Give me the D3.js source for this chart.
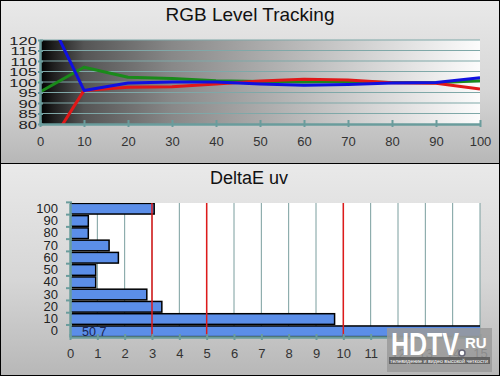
<!DOCTYPE html>
<html>
<head>
<meta charset="utf-8">
<script src="https://cdn.jsdelivr.net/npm/d3@7"></script>
<style>
  body { margin: 0; background: #fff; }
  svg { display: block; font-family: "Liberation Sans", Arial, sans-serif; }
</style>
</head>
<body>
<div id="chart"></div>
<script>
// RGB tracking data (IRE steps)
const levels = [0, 10, 20, 30, 40, 50, 60, 70, 80, 90, 100];
const redVals = [62.7, 96, 97.5, 97.7, 99, 100.5, 101.3, 101, 99.6, 99.4, 96.7];
const greenVals = [95.3, 107, 102.3, 101.7, 100.6, 100.2, 100, 100.2, 99.8, 99.6, 100.6];
const blueVals = [139.6, 96, 99.5, 100, 100, 99, 98.4, 98.8, 99.5, 99.8, 102];
const yTicksTop = [80, 85, 90, 95, 100, 105, 110, 115, 120];

// DeltaE uv data
const deCats = ['100', '90', '80', '70', '60', '50', '40', '30', '20', '10', '0'];
const deVals = [3.08, 0.67, 0.67, 1.43, 1.77, 0.94, 0.94, 2.81, 3.36, 9.68, 50.7];
const deRedLines = [3, 5, 10];
const deTicks = d3.range(0, 16);

const W = 500, H = 376;
const teal = '#6a9c9c';

const svg = d3.select('#chart').append('svg')
    .attr('width', W)
    .attr('height', H);

const defs = svg.append('defs');

let pg = defs.append('linearGradient').attr('id', 'panel').attr('x1', 0).attr('y1', 0).attr('x2', 0).attr('y2', 1);
pg.append('stop').attr('offset', '0%').attr('stop-color', '#e9e9e9');
pg.append('stop').attr('offset', '55%').attr('stop-color', '#d6d6d6');
pg.append('stop').attr('offset', '100%').attr('stop-color', '#b7b7b7');

let bg = defs.append('linearGradient').attr('id', 'ramp').attr('x1', 0).attr('y1', 0).attr('x2', 1).attr('y2', 0);
[['0%', '#000'], ['3%', '#1e1e1e'], ['10%', '#555'], ['30%', '#888'], ['50%', '#aaa'], ['75%', '#d4d4d4'], ['100%', '#fcfcfc']]
    .forEach(s => bg.append('stop').attr('offset', s[0]).attr('stop-color', s[1]));

// panels
svg.append('rect').attr('x', 0).attr('y', 0).attr('width', W).attr('height', 163).attr('fill', 'url(#panel)');
svg.append('rect').attr('x', 0).attr('y', 164).attr('width', W).attr('height', H - 164).attr('fill', 'url(#panel)');
svg.append('line').attr('x1', 0).attr('x2', W).attr('y1', 163.5).attr('y2', 163.5).attr('stroke', '#000');

// ---------- top chart ----------
const x1 = d3.scaleLinear().domain([0, 100]).range([40, 480]);
const y1 = d3.scaleLinear().domain([80, 120]).range([124, 40]);

svg.append('text')
    .attr('x', 250).attr('y', 21)
    .attr('text-anchor', 'middle')
    .style('font-size', '19px')
    .attr('fill', '#111')
    .text('RGB Level Tracking');

svg.append('rect')
    .attr('x', x1(0)).attr('y', y1(120))
    .attr('width', x1(100) - x1(0)).attr('height', y1(80) - y1(120))
    .attr('fill', 'url(#ramp)');

svg.append('g').selectAll('line').data(yTicksTop.slice(1)).enter().append('line')
    .attr('x1', x1(0)).attr('x2', x1(100))
    .attr('y1', d => y1(d)).attr('y2', d => y1(d))
    .attr('stroke', '#7fa8a8').attr('stroke-width', 1.2);

defs.append('clipPath').attr('id', 'clipTop').append('rect')
    .attr('x', x1(0)).attr('y', y1(120))
    .attr('width', x1(100) - x1(0)).attr('height', y1(80) - y1(120));

const line = d3.line().x((d, i) => x1(levels[i])).y(d => y1(d));
const series = [[greenVals, '#1a8a1a'], [redVals, '#e01818'], [blueVals, '#1010e0']];
svg.append('g').attr('clip-path', 'url(#clipTop)')
    .selectAll('path').data(series).enter().append('path')
    .attr('d', d => line(d[0]))
    .attr('fill', 'none')
    .attr('stroke', d => d[1])
    .attr('stroke-width', 3)
    .attr('stroke-linejoin', 'round');

let xAxisTop = svg.append('g')
    .attr('transform', `translate(0, ${y1(80)})`)
    .call(d3.axisBottom(x1).tickValues(levels).tickSizeInner(3).tickSizeOuter(0).tickPadding(10));
xAxisTop.select('.domain').attr('stroke', teal).attr('stroke-width', 2.5);
xAxisTop.selectAll('.tick line').attr('stroke', teal).attr('stroke-width', 2).attr('y1', -4).attr('y2', 3);
xAxisTop.selectAll('.tick text').style('font-size', '13px').attr('fill', '#333').style('font-family', 'inherit');

let yAxisTop = svg.append('g')
    .attr('transform', `translate(${x1(0)}, 0)`)
    .call(d3.axisLeft(y1).tickValues(yTicksTop).tickSizeInner(3).tickSizeOuter(0));
yAxisTop.select('.domain').attr('stroke', teal).attr('stroke-width', 2.5);
yAxisTop.selectAll('.tick line').attr('stroke', teal).attr('stroke-width', 2).attr('x2', 3).attr('x1', -2);
yAxisTop.selectAll('.tick text')
    .attr('x', -3 / 1.45)
    .attr('dy', '0.36em')
    .attr('transform', 'scale(1.45,1)')
    .style('font-size', '11.5px')
    .attr('fill', '#222')
    .style('font-family', 'inherit');

// ---------- bottom chart ----------
const x2 = d3.scaleLinear().domain([0, 15]).range([70, 480]);
const y2 = d3.scaleBand().domain(deCats).range([203, 337]).paddingInner(0.13).paddingOuter(0.03);

svg.append('text')
    .attr('x', 249).attr('y', 184)
    .attr('text-anchor', 'middle')
    .style('font-size', '18px')
    .attr('fill', '#111')
    .text('DeltaE uv');

svg.append('rect')
    .attr('x', x2(0)).attr('y', 203)
    .attr('width', x2(15) - x2(0)).attr('height', 337 - 203)
    .attr('fill', '#fff');

svg.append('g').selectAll('line').data(deTicks.slice(1)).enter().append('line')
    .attr('x1', d => x2(d)).attr('x2', d => x2(d))
    .attr('y1', 203).attr('y2', 337)
    .attr('stroke', '#7a9e9e').attr('stroke-width', 1);

defs.append('clipPath').attr('id', 'clipBot').append('rect')
    .attr('x', x2(0)).attr('y', 203)
    .attr('width', x2(15) - x2(0)).attr('height', 337 - 203);

svg.append('g').attr('clip-path', 'url(#clipBot)')
    .selectAll('rect').data(deVals).enter().append('rect')
    .attr('x', x2(0))
    .attr('y', (d, i) => y2(deCats[i]))
    .attr('width', d => x2(d) - x2(0))
    .attr('height', y2.bandwidth())
    .attr('fill', '#5b8ee8')
    .attr('stroke', '#000')
    .attr('stroke-width', 1.5);

svg.append('g').selectAll('line').data(deRedLines).enter().append('line')
    .attr('x1', d => x2(d)).attr('x2', d => x2(d))
    .attr('y1', 203).attr('y2', 337)
    .attr('stroke', '#e01a1a').attr('stroke-width', 1.5);

svg.append('text')
    .attr('x', 82).attr('y', 336)
    .style('font-size', '12.5px')
    .attr('fill', '#1a2450')
    .text(String(deVals[deVals.length - 1]).replace('.', ','));

let xAxisBot = svg.append('g')
    .attr('transform', 'translate(0, 337)')
    .call(d3.axisBottom(x2).tickValues(deTicks).tickSizeInner(3).tickSizeOuter(0).tickPadding(9));
xAxisBot.select('.domain').attr('stroke', teal).attr('stroke-width', 2.5);
xAxisBot.selectAll('.tick line').attr('stroke', teal).attr('stroke-width', 2).attr('y1', -3).attr('y2', 3);
xAxisBot.selectAll('.tick text').style('font-size', '13px').attr('fill', '#333').style('font-family', 'inherit');

let yAxisBot = svg.append('g')
    .attr('transform', `translate(${x2(0)}, 0)`)
    .call(d3.axisLeft(y2).tickSize(0).tickPadding(12));
yAxisBot.select('.domain').attr('stroke', teal).attr('stroke-width', 2.5);
yAxisBot.selectAll('.tick text').style('font-size', '13px').attr('fill', '#222').style('font-family', 'inherit');
yAxisBot.selectAll('.mark').data(deCats).enter().append('line')
    .attr('x1', -4).attr('x2', 2)
    .attr('y1', d => y2(d) - 1).attr('y2', d => y2(d) - 1)
    .attr('stroke', teal).attr('stroke-width', 2);

// ---------- logo ----------
const logo = svg.append('g').attr('transform', 'translate(387, 328)');
logo.append('rect').attr('width', 105).attr('height', 44).attr('fill', '#9a9a9a').attr('opacity', 0.85);
logo.append('text')
    .attr('x', 4).attr('y', 27)
    .style('font-size', '31px').style('font-weight', 'bold')
    .attr('fill', '#fff')
    .attr('textLength', 68).attr('lengthAdjust', 'spacingAndGlyphs')
    .text('HDTV');
logo.append('circle').attr('cx', 75).attr('cy', 25).attr('r', 3).attr('fill', '#fff').attr('stroke', '#667').attr('stroke-width', 1.5);
logo.append('text')
    .attr('x', 78).attr('y', 20)
    .style('font-size', '15px').style('font-weight', 'bold')
    .attr('fill', '#fff')
    .text('RU');
logo.append('rect').attr('x', 2).attr('y', 29).attr('width', 101).attr('height', 7).attr('fill', '#555').attr('opacity', 0.8);
logo.append('text')
    .attr('x', 52).attr('y', 35)
    .attr('text-anchor', 'middle')
    .style('font-size', '6px')
    .attr('fill', '#fff')
    .attr('textLength', 98).attr('lengthAdjust', 'spacingAndGlyphs')
    .text('телевидение и видео высокой четкости');

// frame
svg.append('rect').attr('x', 0.5).attr('y', 0.5).attr('width', W - 1).attr('height', H - 1)
    .attr('fill', 'none').attr('stroke', '#000');
</script>
</body>
</html>
